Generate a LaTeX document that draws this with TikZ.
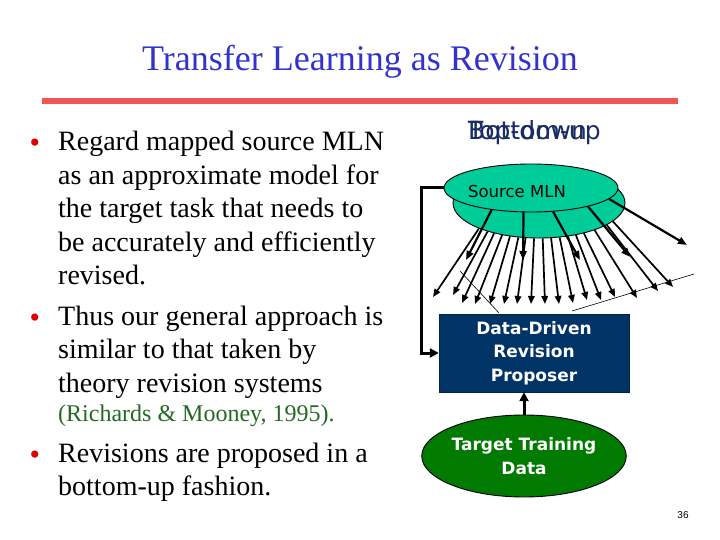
\documentclass[tikz,border=0pt]{standalone}
\usepackage{fontspec}
\setmainfont{Liberation Serif}
\newfontfamily\diagfont{DejaVu Sans}
\newfontfamily\numfont{Liberation Sans}
\usetikzlibrary{shapes.geometric,arrows.meta}
\definecolor{titleblue}{RGB}{51,51,204}
\definecolor{rulered}{RGB}{240,84,84}
\definecolor{dotred}{RGB}{221,0,0}
\definecolor{citegreen}{RGB}{35,105,35}
\definecolor{navybox}{RGB}{0,51,102}
\definecolor{labelnavy}{RGB}{25,45,100}
\definecolor{mlnteal}{RGB}{0,204,153}
\definecolor{datagreen}{RGB}{0,122,0}
\tikzset{
  bodytext/.style={anchor=base west, inner sep=0pt, font=\fontsize{28}{28}\selectfont},
  citetext/.style={anchor=base west, inner sep=0pt, text=citegreen, font=\fontsize{24}{24}\selectfont},
  bullet/.style={anchor=base, inner sep=0pt, text=dotred, font=\fontsize{30}{30}\selectfont},
  updown/.style={anchor=base west, inner sep=0pt, text=labelnavy, font=\diagfont\fontsize{25}{25}\selectfont},
  disc/.style={ellipse, draw, line width=0.9pt, fill=mlnteal, inner sep=0pt},
  fan/.style={-{Triangle[length=8pt,width=6.5pt]}, line width=1.7pt},
  topfan/.style={-{Triangle[length=9pt,width=7pt]}, line width=2.2pt},
  link/.style={-{Triangle[length=9pt,width=9pt]}, line width=3pt},
  proposerbox/.style={fill=navybox, draw=navybox!70!black, text=white, align=center,
    minimum width=190pt, minimum height=78pt, inner sep=0pt,
    font=\diagfont\bfseries\fontsize{17}{23.5}\selectfont},
  databox/.style={ellipse, draw, line width=0.9pt, fill=datagreen, text=white, align=center,
    minimum width=196pt, minimum height=82pt, inner sep=0pt,
    font=\diagfont\bfseries\fontsize{17}{23.5}\selectfont}
}
\begin{document}
\begin{tikzpicture}[x=1pt,y=-1pt]
  \useasboundingbox (0,0) rectangle (720,540);
  % title and rule
  \node[anchor=base, inner sep=0pt, text=titleblue, font=\fontsize{36}{36}\selectfont] (title) at (360,71) {Transfer Learning as Revision};
  \draw[rulered, line width=6pt] (42,101) -- (678,101);

  % bullets
  \node[bullet] (b1) at (35,153) {•};
  \foreach \txt [count=\i] in {Regard mapped source MLN, as an approximate model for,
      the target task that needs to, be accurately and efficiently, revised.}
    \node[bodytext] (pa\i) at (58,151+33.4*\i-33.4) {\txt};
  \node[bullet] (b2) at (35,327) {•};
  \foreach \txt [count=\i] in {Thus our general approach is, similar to that taken by,
      theory revision systems}
    \node[bodytext] (pb\i) at (58,325+33.5*\i-33.5) {\txt};
  \node[citetext] (cite) at (58,421) {(Richards \& Mooney, 1995).};
  \node[bullet] (b3) at (35,464) {•};
  \node[bodytext] (pc1) at (58,462) {Revisions are proposed in a};
  \node[bodytext] (pc2) at (58,495) {bottom-up fashion.};

  % direction labels, one over the other
  \node[updown] (topdown) at (468,140) {Top-down};
  \node[updown] (bottomup) at (468,140) {Bottom-up};

  % thin plane lines
  \draw[line width=0.6pt] (460,271) -- (499,313);
  \draw[line width=0.6pt] (572,311) -- (694,274);

  % source MLN disc, lower layer and its fan
  \node[disc, minimum width=172pt, minimum height=70pt] (mlnbase) at (539,203) {};
  \foreach \a/\ex/\ey [count=\i] in {203.2/433/297, 209.5/453/295, 214.7/462/303,
      221.0/475/304, 229.4/490/304, 239.2/504/304, 249.8/517/304, 262.8/531/304,
      276.5/545/304, 289.6/559/304, 301.3/573/303, 311.6/587/300, 319.6/601/300,
      326.7/615/297, 334.6/637/298, 342.1/658/291, 346.5/673/287}
  {
    \coordinate (tip\i) at (\ex,\ey);
    \draw[fan] (mlnbase.\a) -- (tip\i);
  }

  % source MLN disc, upper layer and its arrows
  \node[disc, minimum width=174pt, minimum height=48pt] (mln) at (531,188) {};
  \node[inner sep=0pt, font=\diagfont\fontsize{16.5}{16.5}\selectfont] (mlnlabel) at (517,191) {Source MLN};
  \foreach \a/\ex/\ey [count=\i] in {209.6/466/260, 253.7/523/260, 313.5/580/260,
      342.4/630/257, 352.8/687/245}
  {
    \coordinate (head\i) at (\ex,\ey);
    \draw[topfan] (mln.\a) -- (head\i);
  }

  % proposer and data
  \node[proposerbox] (proposer) at (534,353) {Data-Driven\\Revision\\Proposer};
  \node[databox] (data) at (524,456) {Target Training\\Data};

  % connectors
  \draw[link] (mln.west) -- ++(-22,0) |- (proposer.west);
  \draw[link] (data.north) -- (data.north |- proposer.south);

  % page number
  \node[anchor=base, inner sep=0pt, font=\numfont\fontsize{10}{10}\selectfont] (page) at (683,518) {36};
\end{tikzpicture}
\end{document}
